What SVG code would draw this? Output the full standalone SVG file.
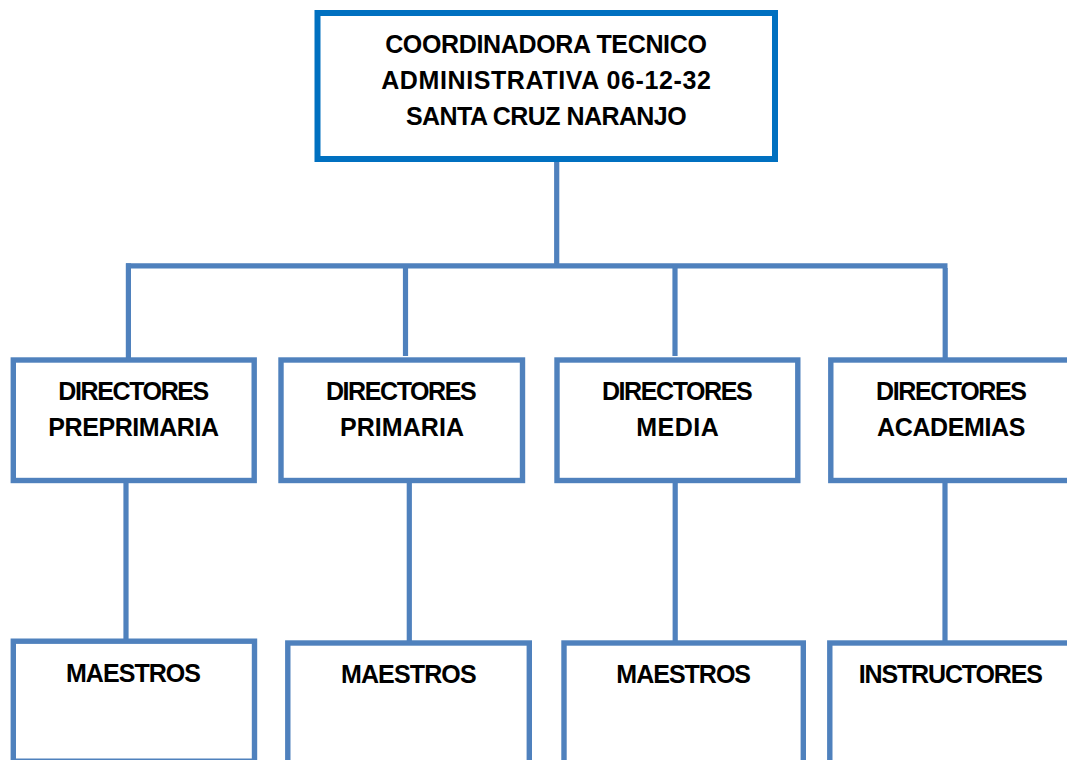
<svg xmlns="http://www.w3.org/2000/svg" width="1067" height="760" viewBox="0 0 1067 760">
<style>
  .box{fill:#ffffff;stroke:#4F81BD;stroke-width:5.4}
  .top{fill:#ffffff;stroke:#0070C0;stroke-width:6}
  .con{fill:none;stroke:#4F81BD;stroke-width:5.2;stroke-linecap:butt}
  .t{font-family:"Liberation Sans",Arial,sans-serif;font-weight:bold;font-size:25px;fill:#000000;text-anchor:middle}
</style>
<rect x="0" y="0" width="1067" height="760" fill="#ffffff"/>
<g id="connectors">
  <line class="con" x1="556.7" y1="162" x2="556.7" y2="268"/>
  <line class="con" x1="126" y1="265.8" x2="947.5" y2="265.8"/>
  <line class="con" x1="128.4" y1="263.3" x2="128.4" y2="358"/>
  <line class="con" x1="405.5" y1="265.8" x2="405.5" y2="356"/>
  <line class="con" x1="675" y1="265.8" x2="675" y2="356"/>
  <line class="con" x1="945.2" y1="268" x2="945.2" y2="358"/>
  <line class="con" x1="126" y1="483" x2="126" y2="639"/>
  <line class="con" x1="409.3" y1="483" x2="409.3" y2="641"/>
  <line class="con" x1="675.2" y1="483" x2="675.2" y2="641"/>
  <line class="con" x1="945" y1="483" x2="945" y2="641"/>
</g>
<g id="coordinadora">
  <rect class="top" x="317.5" y="13" width="457.5" height="146"/>
  <text class="t" x="546" y="53.3" textLength="321.7">COORDINADORA TECNICO</text>
  <text class="t" x="546" y="89.3" textLength="329.7">ADMINISTRATIVA 06-12-32</text>
  <text class="t" x="546.3" y="125" textLength="280.7">SANTA CRUZ NARANJO</text>
</g>
<g id="dir-preprimaria">
  <rect class="box" x="13.3" y="360" width="240.9" height="120.5"/>
  <text class="t" x="133.8" y="400" textLength="151">DIRECTORES</text>
  <text class="t" x="133.7" y="436" textLength="170.7">PREPRIMARIA</text>
</g>
<g id="dir-primaria">
  <rect class="box" x="281" y="360" width="241.5" height="120.5"/>
  <text class="t" x="401.3" y="400" textLength="150.7">DIRECTORES</text>
  <text class="t" x="402" y="436" textLength="124">PRIMARIA</text>
</g>
<g id="dir-media">
  <rect class="box" x="557" y="360" width="240.8" height="120.5"/>
  <text class="t" x="677.3" y="400" textLength="150.7">DIRECTORES</text>
  <text class="t" x="677.5" y="436" textLength="82.4">MEDIA</text>
</g>
<g id="dir-academias">
  <rect class="box" x="830.8" y="360" width="241.5" height="120.5"/>
  <text class="t" x="951.5" y="400" textLength="151">DIRECTORES</text>
  <text class="t" x="951.2" y="436" textLength="148.3">ACADEMIAS</text>
</g>
<g id="maestros-1">
  <rect class="box" x="13.3" y="641.2" width="241.2" height="120"/>
  <text class="t" x="133.5" y="681.7" textLength="135">MAESTROS</text>
</g>
<g id="maestros-2">
  <rect class="box" x="287.8" y="643" width="241.5" height="130"/>
  <text class="t" x="408.8" y="683.3" textLength="135.7">MAESTROS</text>
</g>
<g id="maestros-3">
  <rect class="box" x="564" y="643" width="239.3" height="130"/>
  <text class="t" x="683.7" y="683.3" textLength="134.7">MAESTROS</text>
</g>
<g id="instructores">
  <rect class="box" x="829.8" y="643" width="242" height="130"/>
  <text class="t" x="950.8" y="683.3" textLength="184.3">INSTRUCTORES</text>
</g>
</svg>
